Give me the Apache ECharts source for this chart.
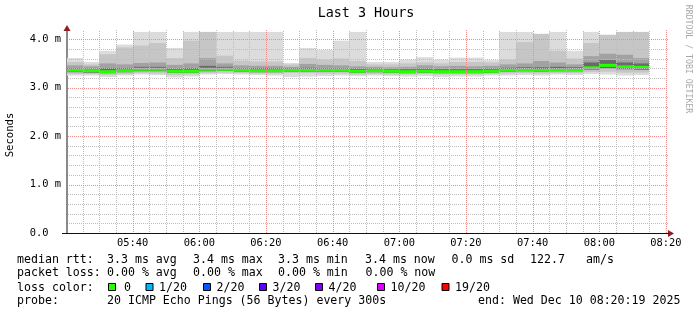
<!DOCTYPE html>
<html><head><meta charset="utf-8">
<script src="https://cdn.jsdelivr.net/npm/echarts@6/dist/echarts.min.js"></script>
<style>html,body{margin:0;padding:0;background:#fff}#c{width:697px;height:315px}</style>
</head><body><div id="c"></div>
<script>
// ---- data ----
const columnStarts = ['05:20','05:25','05:30','05:35','05:40','05:45','05:50','05:55',
  '06:00','06:05','06:10','06:15','06:20','06:25','06:30','06:35','06:40','06:45','06:50','06:55',
  '07:00','07:05','07:10','07:15','07:20','07:25','07:30','07:35','07:40','07:45','07:50','07:55',
  '08:00','08:05','08:10'];
const median = [3.36,3.35,3.33,3.35,3.38,3.38,3.34,3.34,3.38,3.38,3.36,3.35,3.35,3.36,3.36,3.36,3.36,3.34,3.35,3.34,3.33,3.34,3.33,3.33,3.33,3.34,3.36,3.37,3.36,3.37,3.37,3.41,3.46,3.43,3.42];
const smokeMax = [3.61,3.53,3.76,3.89,4.15,4.15,3.82,4.15,4.15,4.15,4.15,4.15,4.15,3.51,3.82,3.78,3.97,4.15,3.53,3.53,3.58,3.63,3.58,3.62,3.62,3.57,4.15,4.15,4.11,4.15,3.76,4.15,4.09,4.15,4.15];
const smokeQ90 = [3.53,3.48,3.69,3.83,3.87,3.92,3.61,3.97,4.15,3.66,3.56,3.54,3.54,3.48,3.61,3.58,3.60,3.55,3.48,3.48,3.50,3.52,3.50,3.53,3.53,3.52,3.58,3.94,4.11,3.76,3.60,3.92,4.09,4.15,4.15];
const smokeQ75 = [3.46,3.44,3.50,3.48,3.51,3.52,3.47,3.50,3.61,3.50,3.46,3.45,3.45,3.43,3.49,3.47,3.46,3.44,3.43,3.42,3.43,3.46,3.44,3.45,3.44,3.45,3.48,3.50,3.55,3.52,3.48,3.65,3.70,3.68,3.61];
const smokeQ60 = [3.40,3.39,3.40,3.40,3.43,3.43,3.39,3.40,3.45,3.43,3.40,3.40,3.40,3.40,3.41,3.40,3.40,3.39,3.39,3.38,3.38,3.39,3.38,3.38,3.38,3.39,3.41,3.42,3.42,3.43,3.42,3.52,3.57,3.52,3.50];
const smokeQ40 = [3.32,3.31,3.30,3.32,3.34,3.34,3.31,3.31,3.34,3.35,3.33,3.32,3.32,3.33,3.33,3.33,3.33,3.31,3.32,3.31,3.30,3.31,3.30,3.30,3.30,3.31,3.33,3.34,3.33,3.34,3.34,3.37,3.40,3.38,3.37];
const smokeQ10 = [3.28,3.28,3.26,3.28,3.30,3.29,3.26,3.27,3.30,3.31,3.30,3.29,3.29,3.30,3.30,3.29,3.29,3.27,3.28,3.27,3.27,3.28,3.27,3.27,3.27,3.28,3.29,3.30,3.29,3.30,3.30,3.32,3.33,3.31,3.31];
const smokeMin = [3.25,3.25,3.22,3.25,3.27,3.26,3.21,3.23,3.27,3.28,3.27,3.26,3.25,3.22,3.23,3.24,3.25,3.24,3.25,3.24,3.23,3.24,3.22,3.23,3.23,3.25,3.25,3.26,3.25,3.27,3.26,3.28,3.27,3.25,3.26];
const xRange = ['05:20:19','08:20:19'];
const xTickLabels = ['05:40','06:00','06:20','06:40','07:00','07:20','07:40','08:00','08:20'];
const yTickValues = [0,1,2,3,4];
const yTickLabels = ['0.0  ','1.0 m','2.0 m','3.0 m','4.0 m'];
const stepMinutes = 5;
const legendRows = [
  [[17,'median rtt:'],[107,'3.3 ms avg'],[193,'3.4 ms max'],[278,'3.3 ms min'],[365,'3.4 ms now'],[451.5,'0.0 ms sd'],[530,'122.7'],[586,'am/s']],
  [[17,'packet loss:'],[107,'0.00 % avg'],[193,'0.00 % max'],[278,'0.00 % min'],[365.5,'0.00 % now']],
  [[17,'loss color:']],
  [[17,'probe:'],[107,'20 ICMP Echo Pings (56 Bytes) every 300s'],[478,'end: Wed Dec 10 08:20:19 2025']]
];
const lossLabels = ['0','1/20','2/20','3/20','4/20','10/20','19/20'];
const lossColors = ['#26ff00','#00b8ff','#0059ff','#5e00ff','#7e00ff','#dd00ff','#ff0000'];

// ---- helpers ----
function toMin(s){const p=s.split(':').map(Number);return p[0]*60+p[1]+(p[2]||0)/60;}
const X_MIN = toMin(xRange[0]), X_MAX = toMin(xRange[1]);
const Y_MAX = 4.19;
const MONO = '"DejaVu Sans Mono", monospace';

const smokeData = columnStarts.map((t,i)=>{
  const s = toMin(t);
  return [s, s+stepMinutes, smokeMin[i], smokeQ10[i], smokeQ40[i], smokeQ60[i], smokeQ75[i], smokeQ90[i], smokeMax[i], median[i]];
});

function renderSmoke(params, api){
  const xs = Math.max(api.value(0), X_MIN);
  const x0 = Math.round(api.coord([xs, 0])[0]);
  const x1 = Math.round(api.coord([api.value(1), 0])[0]);
  const Y = v => api.coord([X_MIN, v])[1];
  const band = (lo, hi, color) => {
    const yt = Y(hi), yb = Y(lo);
    return {type:'rect', shape:{x:x0, y:yt, width:x1-x0, height:yb-yt}, style:{fill:color}};
  };
  const v = k => api.value(k);
  const ym = Y(v(9));
  return {type:'group', children:[
    band(v(2), v(8), '#dcdcdc'),
    band(v(3), v(7), '#c6c6c6'),
    band(v(4), v(6), '#a2a2a2'),
    band(v(4), v(5), '#6a6a6a'),
    {type:'rect', shape:{x:x0, y:ym-1.5, width:x1-x0, height:3}, style:{fill:lossColors[0]}}
  ]};
}

// dotted fill patterns (checkerboard 2x2)
function dotPattern(color){
  const c = document.createElement('canvas');
  c.width = 2; c.height = 2;
  const g = c.getContext('2d');
  g.fillStyle = color;
  g.fillRect(0,0,1,1); g.fillRect(1,1,1,1);
  return {image:c, repeat:'repeat'};
}
const GRID_FILLS = [dotPattern('#bdbdbd'), dotPattern('#ee8a8a')];

// grid lines: [value, orientation(0=vertical,1=horizontal), major(0/1)]
const majorX = xTickLabels.map(toMin);
const gridData = [];
for (let m = Math.ceil(X_MIN/stepMinutes)*stepMinutes; m <= X_MAX + 1e-9; m += stepMinutes) {
  gridData.push([m, 0, majorX.indexOf(m) >= 0 ? 1 : 0]);
}
for (let k = 1; k * 0.2 < Y_MAX; k++) {
  gridData.push([+(k*0.2).toFixed(1), 1, k % 5 === 0 ? 1 : 0]);
}
gridData.sort((a,b) => a[2]-b[2]);

function renderGrid(params, api){
  const item = gridData[params.dataIndex];
  const val = item[0];
  let shape;
  if (item[1] === 0) {
    const a = api.coord([val, Y_MAX]), b = api.coord([val, 0]);
    const x = Math.round(a[0]);
    shape = {x:x, y:Math.round(a[1]), width:1, height:Math.round(b[1]) - Math.round(a[1])};
  } else {
    const a = api.coord([X_MIN, val]), b = api.coord([X_MAX, val]);
    const y = Math.round(a[1]);
    shape = {x:Math.round(a[0]) + 1, y:y, width:Math.round(b[0]) - Math.round(a[0]), height:1};
  }
  return {type:'rect', shape:shape, style:{fill:GRID_FILLS[item[2]]}};
}

// ---- graphics (text) ----
const graphics = [];
const rowY = [260, 272.5, 287.5, 301];
legendRows.forEach((row, r) => row.forEach(([x, t]) => graphics.push({
  type:'text', x:x, y:rowY[r], silent:true,
  style:{text:t, fill:'#000', fontFamily:MONO, fontSize:11.6, verticalAlign:'middle', align:'left'}
})));
const boxX = [108, 145.5, 203, 259, 315, 377, 441.5];
const labX = [124, 159, 216.5, 272.5, 328.5, 390.5, 455];
lossLabels.forEach((l, i) => {
  graphics.push({type:'rect', silent:true, shape:{x:boxX[i]+0.5, y:283.5, width:7, height:7}, style:{fill:lossColors[i], stroke:'#000', lineWidth:1}});
  graphics.push({type:'text', x:labX[i], y:rowY[2], silent:true, style:{text:l, fill:'#000', fontFamily:MONO, fontSize:11.6, verticalAlign:'middle'}});
});
graphics.push({type:'text', x:366, y:13.5, silent:true, style:{text:'Last 3 Hours', fill:'#000', fontFamily:MONO, fontSize:13.4, align:'center', verticalAlign:'middle'}});
graphics.push({type:'text', x:10, y:135, rotation:Math.PI/2, silent:true, style:{text:'Seconds', fill:'#000', fontFamily:MONO, fontSize:10.6, align:'center', verticalAlign:'middle'}});
graphics.push({type:'text', x:688.5, y:59, rotation:-Math.PI/2, silent:true, style:{text:'RRDTOOL / TOBI OETIKER', fill:'#a8a8a8', fontFamily:MONO, fontSize:8.2, align:'center', verticalAlign:'middle'}});
// axis arrows and small axis extensions
graphics.push({type:'polygon', silent:true, z:100, shape:{points:[[67,25],[63.5,31],[70.5,31]]}, style:{fill:'#8f1f1f'}});
graphics.push({type:'polygon', silent:true, z:100, shape:{points:[[674,233.5],[668,230],[668,237]]}, style:{fill:'#8f1f1f'}});
graphics.push({type:'line', silent:true, z:100, shape:{x1:62,y1:233.5,x2:67,y2:233.5}, style:{stroke:'#111', lineWidth:1}});
graphics.push({type:'line', silent:true, z:100, shape:{x1:667,y1:233.5,x2:669,y2:233.5}, style:{stroke:'#111', lineWidth:1}});

const chart = echarts.init(document.getElementById('c'), null, {renderer:'canvas'});
chart.setOption({
  animation:false,
  backgroundColor:'#ffffff',
  grid:{left:67, right:30, top:30, bottom:82, containLabel:false},
  xAxis:{type:'value', min:X_MIN, max:X_MAX,
    axisLine:{show:true, onZero:false, lineStyle:{color:'#111', width:1}},
    axisTick:{show:false}, splitLine:{show:false},
    axisLabel:{customValues:majorX, margin:5, color:'#000', fontFamily:MONO, fontSize:10.4,
      formatter: v => { const i = majorX.findIndex(m => Math.abs(m - v) < 0.01); return i >= 0 ? xTickLabels[i] : ''; }}
  },
  yAxis:{type:'value', min:0, max:Y_MAX, interval:1,
    axisLine:{show:true, lineStyle:{color:'#8a8a8a', width:2}},
    axisTick:{show:false}, splitLine:{show:false},
    axisLabel:{margin:6, color:'#000', fontFamily:MONO, fontSize:10.4, showMaxLabel:false,
      formatter: v => { const i = yTickValues.findIndex(t => Math.abs(t - v) < 1e-6); return i >= 0 ? yTickLabels[i] : ''; }}
  },
  graphic: graphics,
  series:[
    {type:'custom', z:2, silent:true, clip:true, data:smokeData, encode:{x:[0,1], y:[2,8]}, renderItem:renderSmoke},
    {type:'custom', z:5, silent:true, data:gridData.map(g => [g[0], g[1], g[2]]), encode:{x:0}, renderItem:renderGrid}
  ]
});
</script></body></html>
